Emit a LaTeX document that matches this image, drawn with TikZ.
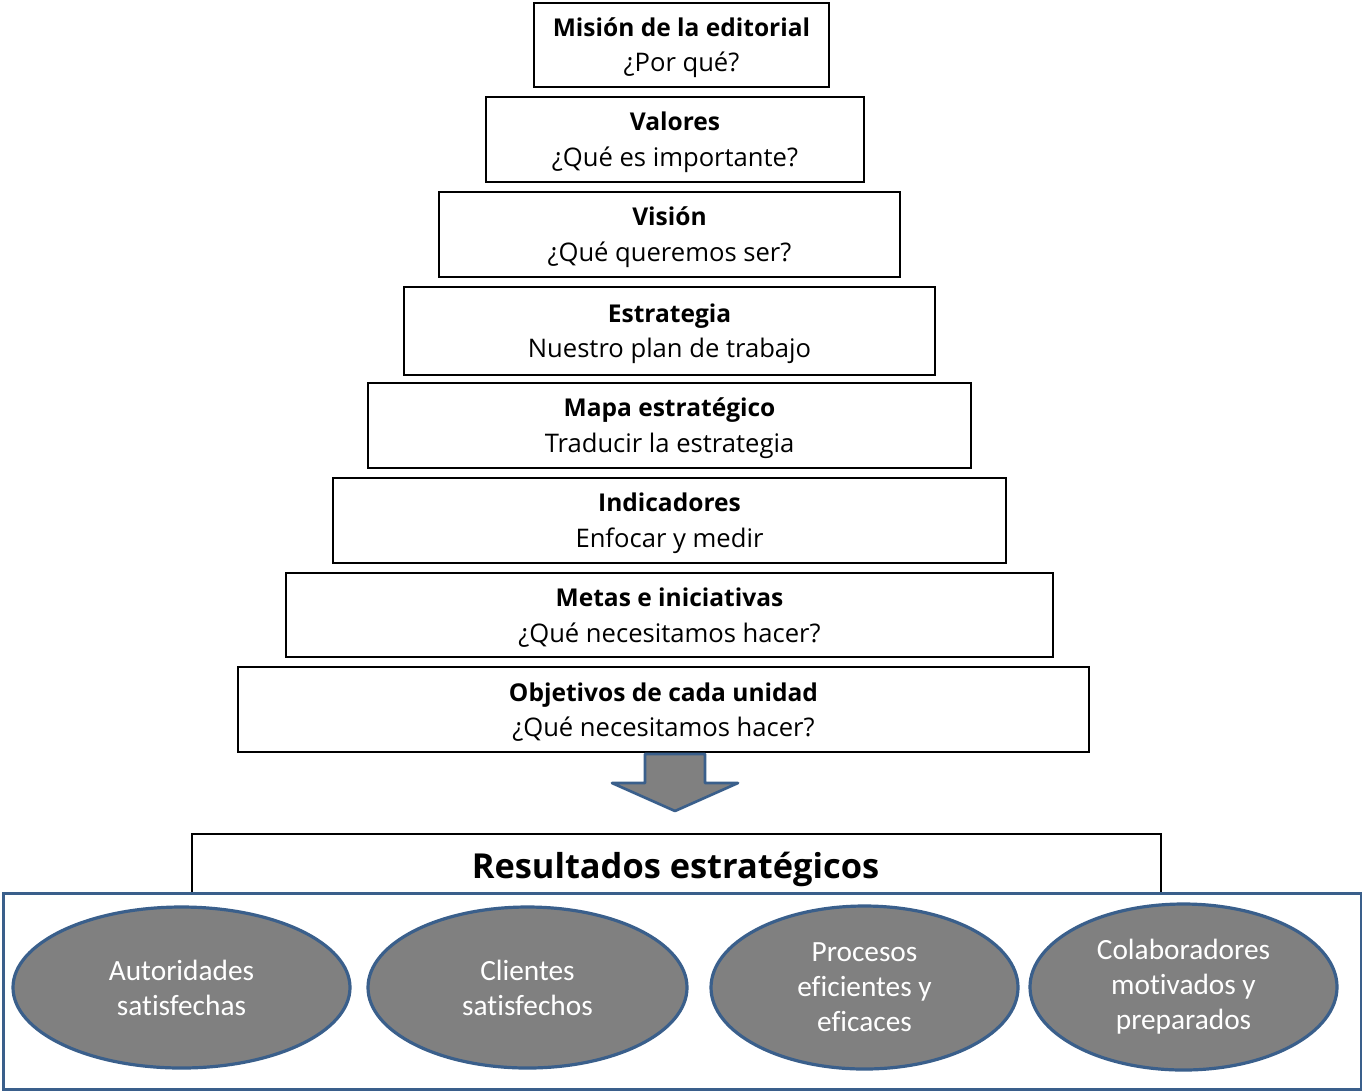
\documentclass[tikz,border=0pt]{standalone}
\usepackage{fontspec}
\setmainfont{Open Sans}
\newfontfamily\ellfont[Ligatures={NoCommon}]{Carlito}
\usetikzlibrary{shapes.geometric}
\definecolor{frameblue}{RGB}{58,95,139}
\definecolor{ellgray}{RGB}{128,128,128}
\tikzset{
  stepbox/.style = {draw, line width=1.2pt, fill=white, inner sep=0, align=center,
    font=\fontsize{18.8}{26.5}\selectfont},
  goal/.style = {ellipse, draw=frameblue, line width=2.4pt, fill=ellgray, inner sep=0,
    align=center, text=white, font=\ellfont\fontsize{22}{26.3}\selectfont},
}

\begin{document}
\begin{tikzpicture}[x=0.75pt, y=-0.75pt]
        \useasboundingbox (0,0) rectangle (1362,1090);
        % Pyramid of steps, top to bottom
        \foreach \X/\x/\y/\w/\h/\a/\b in {
          M/681.5/45/295/84/{Misión de la editorial}/{¿Por qué?},
          V/675/139.5/378/85/{Valores}/{¿Qué es importante?},
          Vi/669.5/234.5/461/85/{Visión}/{¿Qué queremos ser?},
          E/669.5/331/531/88/{Estrategia}/{Nuestro plan de trabajo},
          Ma/669.5/425.5/603/85/{Mapa estratégico}/{Traducir la estrategia},
          I/669.5/520.5/673/85/{Indicadores}/{Enfocar y medir},
          Me/669.5/615/767/84/{Metas e iniciativas}/{¿Qué necesitamos hacer?},
          O/663.5/709.5/851/85/{Objetivos de cada unidad}/{¿Qué necesitamos hacer?}%
        }{
          \node (step\X) [stepbox, minimum width=\w*0.75pt, minimum height=\h*0.75pt]
            at (\x,\y) {};
          \node (label\X) [align=center, inner sep=0, font=\fontsize{19.2}{26.5}\selectfont]
            at ([yshift=-2pt]step\X.center) {{\fontsize{18.4}{26.5}\selectfont\bfseries\a}\\\b};
        }

        % Block arrow down to the results
        \draw [frameblue, line width=2pt, fill=ellgray, line join=round]
          (645,754) -- (705,754) -- (705,783) -- (738,783) -- (675,811)
          -- (612,783) -- (645,783) -- cycle;

        \node (res) [stepbox, minimum width=969*0.75pt, minimum height=60*0.75pt,
          anchor=north west] at (191,833) {};
        \node (restitle) [font=\bfseries\fontsize{25.8}{30}\selectfont] at (675.5,869)
          {Resultados estratégicos};

        \node (frame) [draw=frameblue, line width=2.4pt, fill=white, inner sep=0,
          minimum width=1358*0.75pt, minimum height=196*0.75pt, anchor=north west]
          at (2,892) {};

        \foreach \X/\x/\y/\w/\h/\t in {
          A/181.5/987.5/337/161/{Autoridades\\satisfechas},
          C/527.5/987.5/319/161/{Clientes\\satisfechos},
          P/864.5/987.5/307/163/{Procesos\\eficientes y\\eficaces},
          K/1183.5/987/307/166/{Colaboradores\\motivados y\\preparados}%
        }{
          \node (goal\X) [goal, minimum width=\w*0.75pt, minimum height=\h*0.75pt]
            at (\x,\y) {\t};
        }
      \end{tikzpicture}
\end{document}
